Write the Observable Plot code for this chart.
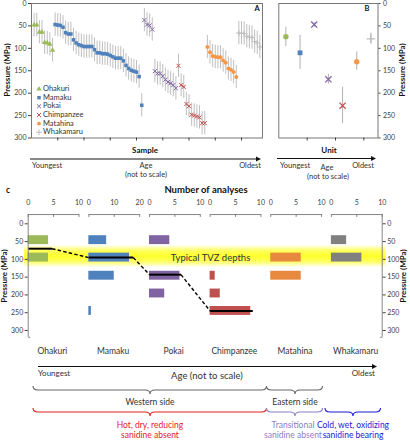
<!DOCTYPE html>
<html><head><meta charset="utf-8">
<script src="https://cdn.jsdelivr.net/npm/d3@7"></script>
<script src="https://cdn.jsdelivr.net/npm/@observablehq/plot@0.6"></script>
<style>
body{margin:0;background:#fff;}
#wrap{position:relative;width:410px;height:440px;overflow:hidden;font-family:Lato,'Open Sans',sans-serif;}
#wrap > svg{position:absolute;overflow:visible;}
</style></head><body><div id="wrap"></div>
<script>
// ---------- data ----------
const units = ["Ohakuri","Mamaku","Pokai","Chimpanzee","Matahina","Whakamaru"];
// Panel A: per-sample pressure (MPa), ordered as plotted
const ohakuriP = [48,48,64,64,87,88,91,104];
const mamakuP = [47,48,49,53,65,68,68,81,88,92,94,96,96,96,96,103,110,110,112,112,113,116,119,122,122,122,128,138,145,149,151,153,163,227];
const pokaiP = [37,47,49,58,151,156,156,162,170,175,178,182,189];
const chimpanzeeP = [139,182,186,224,229,248,250,252,254,267,267];
const matahinaP = [97,109,117,119,120,120,127,132,145,148,153,164];
const whakamaruP = [66,66,67,73,75,76,85,88,97];
const sampleErr = 26;
const sampleTicks = [10,20,30,40,50,60,70,80];
// Panel B: unit averages
const unitSeriesB = ["Ohakuri","Mamaku","Pokai","Pokai","Chimpanzee","Matahina","Whakamaru"];
const unitMeanP = [74,110,47,169,228,130,79];
const unitLowP  = [53,71,43,158,187,108,66];
const unitHighP = [96,147,54,180,268,149,90];
const unitTicksB = [2.5,4.5,6.5];
// Panel C: histograms (number of analyses per pressure bin)
const binCenters = [46,95,146,196,245];
const ohakuriCounts = [4,4,0,0,0];
const mamakuCounts = [7,16,10,0,1];
const pokaiCounts = [4,0,6,3,0];
const chimpanzeeCounts = [0,0,1,2,8];
const matahinaCounts = [0,6,6,0,0];
const whakamaruCounts = [3,6,0,0,0];
const maxCount = [10,20,10,10,10,10];
const countTicks = [[0,5,10],[0,10,20],[0,5,10],[0,5,10],[0,5,10],[0,5,10]];
const trendP = [70,95,143,245];
const trendLen = [4.7,17.5,6.2,8.4];
const tvzBand = [60,124];
const pressureTicks = [0,50,100,150,200,250,300];

// ---------- styles ----------
const colA = {Ohakuri:"#9bbb59",Mamaku:"#4f81bd",Pokai:"#8064a2",Chimpanzee:"#c0504d",Matahina:"#f79646",Whakamaru:"#bdbdbd"};
const symA = {Ohakuri:"triangle",Mamaku:"square",Pokai:"times",Chimpanzee:"times",Matahina:"circle",Whakamaru:"plus"};
const symB = ["circle","square","times","times","times","circle","plus"];
const colC = ["#9bbb59","#4f81bd","#8064a2","#c0504d","#e8883e","#808080"];
const FONT = "Lato, 'Open Sans', sans-serif";
const wrap = document.getElementById("wrap");
function place(svg,left,top){svg.style.left=left+"px";svg.style.top=top+"px";wrap.appendChild(svg);}
const strokeSyms = new Set(["times","plus"]);

// ---------- Panel A ----------
const seriesA = [ohakuriP,mamakuP,pokaiP,chimpanzeeP,matahinaP,whakamaruP];
const samples = [];
let k = 0;
seriesA.forEach((arr,u)=>arr.forEach(p=>{k++;samples.push({i:k,p,unit:units[u]});}));

const dotMarksA = units.map(u=>{
  const s = symA[u], isS = strokeSyms.has(s);
  return Plot.dot(samples.filter(d=>d.unit===u),{x:"i",y:"p",symbol:()=>s,r:2,
    fill:isS?"none":colA[u],stroke:isS?colA[u]:"none",strokeWidth:1});
});
const plotA = Plot.plot({
  width:266,height:141,marginTop:3,marginBottom:3.5,marginLeft:31,marginRight:4,
  style:{fontFamily:FONT,fontSize:"7px",color:"#404040",background:"transparent"},
  x:{domain:[0,88],axis:null},
  y:{domain:[0,300],reverse:true,axis:null},
  symbol:{type:"identity"},
  marks:[
    Plot.ruleX(samples,{x:"i",y1:d=>d.p-sampleErr,y2:d=>d.p+sampleErr,stroke:"#b8b8b8",strokeWidth:0.9}),
    ...dotMarksA,
    Plot.frame({stroke:"#777"}),
    Plot.axisY({ticks:pressureTicks,tickSize:3,tickPadding:2,label:null,fontSize:7}),
    Plot.axisX({ticks:sampleTicks,tickSize:3,tickFormat:()=>"",label:null})
  ]
});
place(plotA,0,0);

// ---------- Panel B ----------
const unitsB = unitSeriesB.map((u,i)=>({x:i+1,u,p:unitMeanP[i],lo:unitLowP[i],hi:unitHighP[i],s:symB[i]}));
const plotB = Plot.plot({
  width:140,height:141,marginTop:3,marginBottom:3.5,marginLeft:8.3,marginRight:32.5,
  style:{fontFamily:FONT,fontSize:"7px",color:"#404040",background:"transparent"},
  x:{domain:[0.5,7.5],axis:null},
  y:{domain:[0,300],reverse:true,axis:null},
  symbol:{type:"identity"},
  marks:[
    Plot.ruleX(unitsB,{x:"x",y1:"lo",y2:"hi",stroke:"#b0b0b0",strokeWidth:1}),
    ...unitsB.map(d=>{const isS=strokeSyms.has(d.s);
      return Plot.dot([d],{x:"x",y:"p",symbol:()=>d.s,r:isS?2.9:2.7,
        fill:isS?"none":colA[d.u],stroke:isS?colA[d.u]:"none",strokeWidth:1.3});}),
    Plot.frame({stroke:"#777"}),
    Plot.axisY({anchor:"right",ticks:pressureTicks,tickSize:2,tickPadding:3,label:null,fontSize:7}),
    Plot.axisX({ticks:unitTicksB,tickSize:3,tickFormat:()=>"",label:null})
  ]
});
place(plotB,270,0);

// ---------- Panel C ----------
const countsC = [ohakuriCounts,mamakuCounts,pokaiCounts,chimpanzeeCounts,matahinaCounts,whakamaruCounts];
const axW = 0.838, xEnd = 5.838, topP = -26, botP = 319, barHalf = 12.5;
const xC = (u,c)=> u + c/maxCount[u]*axW;
const bars = [];
countsC.forEach((arr,u)=>arr.forEach((c,j)=>{ if(c>0) bars.push({x1:u,x2:xC(u,c),y1:binCenters[j]-barHalf,y2:binCenters[j]+barHalf,fill:colC[u]}); }));
const solid = trendP.map((p,i)=>({x1:i,x2:xC(i,trendLen[i]),y1:p,y2:p}));
const dashed = trendP.slice(1).map((p,i)=>({x1:xC(i,trendLen[i]),y1:trendP[i],x2:i+1,y2:p}));
const subAxes = units.map((u,i)=>({x1:i,x2:i+axW}));
const topTicks = [];
countTicks.forEach((t,u)=>t.forEach(v=>topTicks.push({x:xC(u,v),v})));
const gradDefs = () => {
  const defs = d3.create("svg:defs");
  const g = defs.append("linearGradient").attr("id","tvz").attr("x1",0).attr("x2",0).attr("y1",0).attr("y2",1);
  [[0,0],[0.28,0.8],[0.5,1],[0.72,0.8],[1,0]].forEach(([o,a])=>g.append("stop").attr("offset",o).attr("stop-color","#ffff2e").attr("stop-opacity",a));
  return defs.node();
};
const plotC = Plot.plot({
  width:410,height:175,marginTop:38.3,marginBottom:30,marginLeft:27.7,marginRight:28.3,
  style:{fontFamily:FONT,fontSize:"7px",color:"#404040",background:"transparent"},
  x:{domain:[0,xEnd],axis:null},
  y:{domain:[0,300],reverse:true,axis:null},
  marks:[
    gradDefs,
    Plot.rect([tvzBand],{x1:-0.06,x2:xEnd+0.06,y1:d=>d[0],y2:d=>d[1],fill:"url(#tvz)"}),
    Plot.rect(bars,{x1:"x1",x2:"x2",y1:"y1",y2:"y2",fill:"fill"}),
    Plot.text(["Typical TVZ depths"],{x:2.35,y:97,text:d=>d,textAnchor:"start",fontSize:9.5,fill:"#333"}),
    Plot.link(dashed,{x1:"x1",y1:"y1",x2:"x2",y2:"y2",stroke:"#000",strokeWidth:1.4,strokeDasharray:"3.5,2.2"}),
    Plot.link(solid,{x1:"x1",y1:"y1",x2:"x2",y2:"y2",stroke:"#000",strokeWidth:2}),
    Plot.ruleX([0,xEnd],{y1:topP,y2:botP,stroke:"#777",strokeWidth:0.9}),
    Plot.link([{a:0,b:0.035},{a:xEnd-0.035,b:xEnd}],{x1:"a",x2:"b",y1:botP,y2:botP,stroke:"#777",strokeWidth:0.9}),
    Plot.link(subAxes,{x1:"x1",x2:"x2",y1:topP,y2:topP,stroke:"#777",strokeWidth:0.9}),
    Plot.ruleX(topTicks,{x:"x",y1:topP,y2:topP+8,stroke:"#777",strokeWidth:0.9}),
    Plot.text(topTicks,{x:"x",y:topP,dy:-12,text:d=>String(d.v),fontSize:7,fill:"#404040"}),
    Plot.axisY({anchor:"left",ticks:pressureTicks,tickSize:3,tickPadding:2,label:null,fontSize:7}),
    Plot.axisY({anchor:"right",ticks:pressureTicks,tickSize:3,tickPadding:2,label:null,fontSize:7}),
    Plot.text(units,{x:(d,i)=>i+0.4,frameAnchor:"bottom",dy:23,text:d=>d,fontSize:8.5,fill:"#333"})
  ]
});
place(plotC,0,185);

// ---------- annotation overlay ----------
const ov = d3.create("svg").attr("width",410).attr("height",440).style("left","0px").style("top","0px")
  .style("font-family",FONT).style("pointer-events","none");
function txt(x,y,s,o={}){
  const t = ov.append("text").attr("x",x).attr("y",y).attr("dominant-baseline","middle")
    .attr("text-anchor",o.anchor||"middle").attr("font-size",o.size||7.5).attr("fill",o.fill||"#333")
    .attr("font-weight",o.bold?"bold":null).text(s);
  if(o.rot) t.attr("transform",`rotate(-90,${x},${y})`);
  return t;
}
function arrow(x1,x2,y){
  ov.append("line").attr("x1",x1).attr("x2",x2-3).attr("y1",y).attr("y2",y).attr("stroke","#111").attr("stroke-width",1);
  ov.append("path").attr("d",`M${x2},${y} L${x2-5},${y-2.4} L${x2-5},${y+2.4}Z`).attr("fill","#111");
}
function brace(x1,x2,y,h,xm,col){
  const r=5,q=h/2;
  ov.append("path").attr("fill","none").attr("stroke",col).attr("stroke-width",1.1)
    .attr("d",`M${x1},${y} Q${x1},${y+q} ${x1+r},${y+q} L${xm-r},${y+q} Q${xm},${y+q} ${xm},${y+h} Q${xm},${y+q} ${xm+r},${y+q} L${x2-r},${y+q} Q${x2},${y+q} ${x2},${y}`);
}
// legend in A
const legendY = [89,97.7,106.3,115,123.6,132.3];
units.forEach((u,i)=>{
  const s = symA[u], isS = strokeSyms.has(s);
  const symGen = {triangle:d3.symbolTriangle,square:d3.symbolSquare,times:d3.symbolTimes,circle:d3.symbolCircle,plus:d3.symbolPlus}[s];
  ov.append("path").attr("d",d3.symbol(symGen,12)()).attr("transform",`translate(39,${legendY[i]})`)
    .attr("fill",isS?"none":colA[u]).attr("stroke",isS?colA[u]:"none").attr("stroke-width",1);
  txt(43,legendY[i],u,{anchor:"start",size:7.5,fill:"#333"});
});
txt(257,9,"A",{bold:true,size:7.5,fill:"#111"});
txt(367,9,"B",{bold:true,size:7.5,fill:"#111"});
txt(8,70,"Pressure (MPa)",{rot:true,bold:true,size:8,fill:"#111"});
txt(403,70,"Pressure (MPa)",{rot:true,bold:true,size:8,fill:"#111"});
// A bottom
txt(145,151,"Sample",{bold:true,size:8,fill:"#111"});
arrow(30,261,159);
txt(32,166,"Youngest",{anchor:"start",size:7.5});
txt(146,166,"Age",{size:7.5});
txt(146,175,"(not to scale)",{size:7.5});
txt(261,166,"Oldest",{anchor:"end",size:7.5});
// B bottom
txt(329,151,"Unit",{bold:true,size:8,fill:"#111"});
arrow(277,376,158.5);
txt(280,166,"Youngest",{anchor:"start",size:7.5});
txt(327,168,"Age",{size:7.5});
txt(328,177,"(not to scale)",{size:7.5});
txt(374,166,"Oldest",{anchor:"end",size:7.5});
// C header
txt(8,191,"c",{bold:true,size:8.5,fill:"#111"});
txt(206,191,"Number of analyses",{bold:true,size:9.5,fill:"#111"});
txt(5,276,"Pressure (MPa)",{rot:true,bold:true,size:8,fill:"#111"});
txt(404,276,"Pressure (MPa)",{rot:true,bold:true,size:8,fill:"#111"});
// bottom timeline
arrow(38,377,366.5);
txt(38,373.5,"Youngest",{anchor:"start",size:8});
txt(207,377,"Age (not to scale)",{size:9.5});
txt(375,373.5,"Oldest",{anchor:"end",size:8});
brace(33,266.5,386,8,150,"#666");
brace(266.5,322.5,386,8,295,"#666");
txt(150,403,"Western side",{size:8.5});
txt(295,403,"Eastern side",{size:8.5});
brace(33,266.5,408,8,150,"#e0201f");
brace(266.5,322.5,408,8,295,"#8b7fc4");
brace(325,380.5,408,8,353,"#1a1ad6");
txt(150,426,"Hot, dry, reducing",{size:8.5,fill:"#e0201f"});
txt(150,436,"sanidine absent",{size:8.5,fill:"#e0201f"});
txt(293,426,"Transitional",{size:8.5,fill:"#8b7fc4"});
txt(293,436,"sanidine absent",{size:8.5,fill:"#8b7fc4"});
txt(353,426,"Cold, wet, oxidizing",{size:8.5,fill:"#1a1ad6"});
txt(353,436,"sanidine bearing",{size:8.5,fill:"#1a1ad6"});
place(ov.node(),0,0);
</script></body></html>
